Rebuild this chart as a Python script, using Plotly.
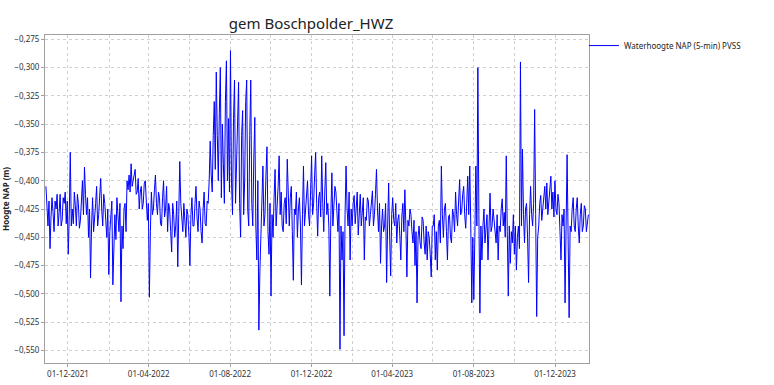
import pandas as pd
import plotly.graph_objects as go

title_text = "gem Boschpolder_HWZ"
y_title = "Hoogte NAP (m)"
series_name = "Waterhoogte NAP (5-min) PVSS"

start_date = "2021-10-29"
end_date = "2024-01-20"

# main readings, ~10 per month (Oct 2021 .. Jan 2024)
v_2021 = [
    -0.405,
    -0.440, -0.460, -0.415, -0.445, -0.425, -0.440, -0.412, -0.435, -0.420, -0.438,
    -0.465, -0.375, -0.425, -0.410, -0.440, -0.420, -0.435, -0.400, -0.388, -0.430,
]
v_2022_h1 = [
    -0.450, -0.486, -0.415, -0.435, -0.405, -0.430, -0.398, -0.440, -0.420, -0.450,
    -0.483, -0.425, -0.492, -0.430, -0.415, -0.445, -0.507, -0.460, -0.420, -0.400,
    -0.395, -0.385, -0.400, -0.390, -0.410, -0.425, -0.405, -0.420, -0.400, -0.435,
    -0.503, -0.410, -0.425, -0.395, -0.430, -0.415, -0.440, -0.400, -0.425, -0.445,
    -0.425, -0.463, -0.430, -0.440, -0.476, -0.383, -0.435, -0.420, -0.450, -0.430,
    -0.475, -0.415, -0.440, -0.405, -0.445, -0.425, -0.455, -0.410, -0.440, -0.420,
]
v_2022_h2 = [
    -0.365, -0.410, -0.330, -0.304, -0.400, -0.300, -0.350, -0.420, -0.294, -0.345,
    -0.285, -0.430, -0.311, -0.380, -0.313, -0.450, -0.338, -0.400, -0.311, -0.440,
    -0.311, -0.440, -0.344, -0.470, -0.532, -0.450, -0.387, -0.430, -0.370, -0.465,
    -0.502, -0.450, -0.390, -0.425, -0.378, -0.410, -0.445, -0.415, -0.381, -0.440,
    -0.405, -0.488, -0.430, -0.450, -0.415, -0.492, -0.387, -0.425, -0.400, -0.440,
    -0.378, -0.420, -0.375, -0.449, -0.410, -0.378, -0.445, -0.384, -0.420, -0.502,
]
v_2023_h1 = [
    -0.393, -0.425, -0.410, -0.445, -0.549, -0.470, -0.537, -0.387, -0.440, -0.470,
    -0.440, -0.413, -0.425, -0.448, -0.412, -0.430, -0.470, -0.435, -0.418, -0.430,
    -0.409, -0.430, -0.390, -0.445, -0.473, -0.425, -0.440, -0.490, -0.402, -0.484,
    -0.415, -0.440, -0.455, -0.430, -0.470, -0.420, -0.408, -0.485, -0.440, -0.430,
    -0.455, -0.475, -0.508, -0.440, -0.460, -0.435, -0.465, -0.470, -0.450, -0.485,
    -0.440, -0.470, -0.479, -0.435, -0.387, -0.450, -0.420, -0.470, -0.430, -0.455,
]
v_2023_h2 = [
    -0.430, -0.410, -0.440, -0.399, -0.428, -0.405, -0.442, -0.396, -0.387, -0.508,
    -0.505, -0.387, -0.300, -0.517, -0.470, -0.425, -0.445, -0.470, -0.411, -0.440,
    -0.435, -0.455, -0.470, -0.445, -0.416, -0.428, -0.378, -0.502, -0.473, -0.455,
    -0.465, -0.479, -0.440, -0.295, -0.372, -0.455, -0.420, -0.490, -0.405, -0.440,
    -0.337, -0.520, -0.440, -0.413, -0.425, -0.405, -0.402, -0.420, -0.396, -0.410,
    -0.400, -0.430, -0.420, -0.470, -0.440, -0.508, -0.377, -0.521, -0.445, -0.415,
]
v_2024 = [-0.445, -0.415, -0.455, -0.420, -0.440, -0.425, -0.435]

# in-between readings (the dense band between the main readings)
b_2021 = [
    -0.425,
    -0.418, -0.432, -0.428, -0.418, -0.412, -0.428, -0.440, -0.415, -0.410, -0.418,
    -0.430, -0.440, -0.438, -0.422, -0.412, -0.442, -0.418, -0.430, -0.412, -0.415,
]
b_2022_h1 = [
    -0.425, -0.440, -0.445, -0.420, -0.440, -0.418, -0.425, -0.412, -0.435, -0.425,
    -0.445, -0.418, -0.445, -0.452, -0.430, -0.420, -0.440, -0.425, -0.445, -0.408,
    -0.410, -0.405, -0.392, -0.412, -0.398, -0.410, -0.425, -0.402, -0.418, -0.420,
    -0.445, -0.430, -0.408, -0.420, -0.410, -0.438, -0.415, -0.432, -0.405, -0.420,
    -0.445, -0.420, -0.450, -0.418, -0.430, -0.420, -0.445, -0.440, -0.425, -0.448,
    -0.430, -0.440, -0.420, -0.432, -0.418, -0.445, -0.425, -0.438, -0.418, -0.400,
]
b_2022_h2 = [
    -0.395, -0.360, -0.390, -0.360, -0.340, -0.415, -0.385, -0.330, -0.400, -0.410,
    -0.400, -0.345, -0.420, -0.335, -0.420, -0.360, -0.430, -0.330, -0.425, -0.360,
    -0.420, -0.380, -0.440, -0.400, -0.480, -0.410, -0.440, -0.395, -0.445, -0.420,
    -0.430, -0.415, -0.440, -0.405, -0.430, -0.440, -0.420, -0.438, -0.425, -0.415,
    -0.445, -0.425, -0.410, -0.425, -0.440, -0.430, -0.440, -0.405, -0.430, -0.410,
    -0.430, -0.395, -0.420, -0.415, -0.432, -0.420, -0.410, -0.430, -0.440, -0.430,
]
b_2023_h1 = [
    -0.440, -0.405, -0.430, -0.420, -0.440, -0.445, -0.430, -0.425, -0.410, -0.425,
    -0.420, -0.438, -0.410, -0.425, -0.440, -0.415, -0.432, -0.415, -0.440, -0.418,
    -0.440, -0.412, -0.425, -0.420, -0.440, -0.445, -0.420, -0.440, -0.450, -0.430,
    -0.435, -0.420, -0.435, -0.448, -0.432, -0.445, -0.440, -0.435, -0.425, -0.445,
    -0.435, -0.445, -0.450, -0.455, -0.432, -0.455, -0.440, -0.445, -0.465, -0.440,
    -0.430, -0.445, -0.440, -0.455, -0.430, -0.425, -0.445, -0.432, -0.450, -0.425,
]
b_2023_h2 = [
    -0.445, -0.430, -0.418, -0.430, -0.412, -0.430, -0.420, -0.430, -0.440, -0.450,
    -0.450, -0.440, -0.430, -0.440, -0.440, -0.455, -0.430, -0.440, -0.445, -0.425,
    -0.448, -0.430, -0.440, -0.425, -0.440, -0.450, -0.445, -0.440, -0.445, -0.430,
    -0.440, -0.450, -0.460, -0.440, -0.430, -0.425, -0.450, -0.430, -0.430, -0.420,
    -0.430, -0.450, -0.420, -0.435, -0.412, -0.425, -0.430, -0.410, -0.425, -0.432,
    -0.425, -0.412, -0.445, -0.430, -0.425, -0.440, -0.450, -0.440, -0.425, -0.440,
]
b_2024 = [-0.425, -0.440, -0.430, -0.445, -0.422, -0.445, -0.430]

main = v_2021 + v_2022_h1 + v_2022_h2 + v_2023_h1 + v_2023_h2 + v_2024
between = b_2021 + b_2022_h1 + b_2022_h2 + b_2023_h1 + b_2023_h2 + b_2024
assert len(main) == len(between), (len(main), len(between))

values = [x for pair in zip(main, between) for x in pair]
dates = pd.date_range(start_date, end_date, periods=len(values))

fig = go.Figure()
fig.add_trace(go.Scatter(
    x=dates, y=values, mode="lines", name=series_name,
    line=dict(color="#0000ff", width=1),
    showlegend=True,
))

axis_common = dict(
    showline=True, linecolor="#a0a0a0", linewidth=1, mirror=True,
    gridcolor="#d0d0d0", griddash="dot", gridwidth=1,
    ticks="outside", ticklen=3, tickcolor="#a0a0a0",
    tickfont=dict(family="Noto Sans", size=8, color="#333333"),
    zeroline=False,
)

fig.update_layout(
    width=774, height=385,
    margin=dict(l=45, r=185, t=35, b=22, autoexpand=False),
    paper_bgcolor="white", plot_bgcolor="white",
    separators=", ",
    title=dict(text=title_text, x=311 / 774, xref="container", xanchor="center",
               y=1 - 24 / 385, yref="container", yanchor="middle",
               font=dict(family="Noto Sans", size=15, color="#222222")),
    legend=dict(x=0.9908, xanchor="left", y=1.012, yanchor="top",
                font=dict(family="Noto Sans", size=8, color="#222222"),
                bgcolor="rgba(0,0,0,0)", itemwidth=30),
    showlegend=True,
)

fig.update_xaxes(
    **axis_common,
    range=["2021-10-27 14:00", "2024-01-20 22:00"],
    tick0="2021-12-01", dtick="M4", tickformat="%d-%m-%Y",
    minor=dict(tick0="2021-12-01", dtick="M2", showgrid=True,
               gridcolor="#d0d0d0", griddash="dot", ticks=""),
)
fig.update_yaxes(
    **axis_common,
    range=[-0.5611, -0.2712],
    tick0=-0.275, dtick=0.025, tickformat=".3f",
    automargin=False,
    title=dict(text="<b>" + y_title + "</b>",
               font=dict(family="Noto Sans", size=8, color="#222222")),
)

fig.write_html("out.html")
